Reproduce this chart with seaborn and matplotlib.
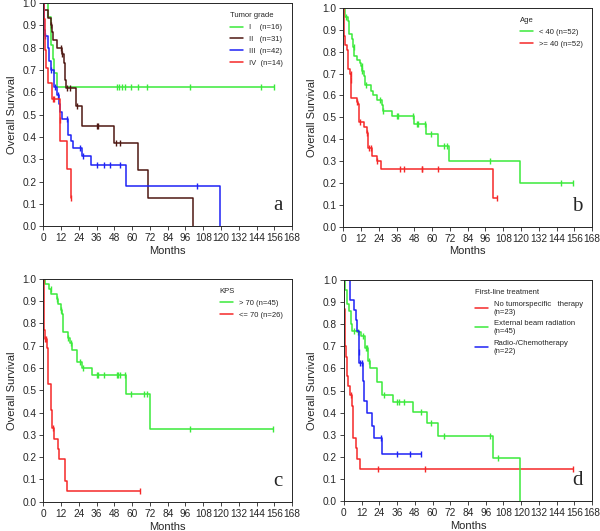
import matplotlib
matplotlib.use("Agg")
import matplotlib.pyplot as plt
import seaborn as sns
import pandas as pd
import numpy as np

# ---- data ----
# panel a: tumor grade
grade1_t = [0, 3, 5, 5.5, 6.5, 7.5, 9.5]
grade1_s = [1.0, 0.9375, 0.875, 0.8125, 0.75, 0.6875, 0.625]
grade1_c = [50, 51, 53, 55, 59, 64, 70, 99, 147, 156]

grade2_t = [0, 0.5, 3, 5, 6, 6.5, 9, 13, 14, 14.5, 15, 15.5, 22, 26, 47.5, 64, 71, 101]
grade2_s = [1.0, 0.97, 0.935, 0.90, 0.87, 0.835, 0.80, 0.77, 0.73, 0.69, 0.655, 0.62, 0.54, 0.45, 0.375, 0.25, 0.125, 0.0]
grade2_c = [5, 12, 13, 16, 18, 22.5, 36, 37, 49, 52]

grade3_t = [0, 0.5, 1, 3, 4, 5, 7, 7.5, 9, 10.5, 11, 13, 16.5, 17, 19, 20, 26, 32.5, 56, 119]
grade3_s = [1.0, 0.88, 0.855, 0.80, 0.74, 0.70, 0.665, 0.625, 0.59, 0.55, 0.51, 0.48, 0.445, 0.41, 0.38, 0.35, 0.315, 0.275, 0.18, 0.0]
grade3_c = [1.5, 5, 8, 10, 16, 25, 27, 36, 41, 45, 52, 104]

grade4_t = [0, 0.3, 1, 2, 3, 6, 11, 11.5, 16, 19]
grade4_s = [1.0, 0.93, 0.79, 0.71, 0.64, 0.57, 0.475, 0.38, 0.255, 0.125]
grade4_c = [6.5, 7.5, 11, 19]

# panel b: age
young_t = [0, 1, 3.5, 4, 6, 6.5, 7.5, 9, 11, 12, 13, 14, 15, 19, 20, 22.5, 26, 27, 33, 47.5, 56, 64, 71.5, 119]
young_s = [1.0, 0.96, 0.94, 0.88, 0.86, 0.82, 0.78, 0.76, 0.75, 0.735, 0.71, 0.69, 0.65, 0.62, 0.60, 0.58, 0.555, 0.53, 0.505, 0.47, 0.425, 0.37, 0.30, 0.20]
young_c = [2, 7, 12.5, 13, 15.5, 25, 27, 36, 37, 47, 50, 50.5, 55, 59, 68, 70, 99, 147, 155]

old_t = [0, 0.3, 0.5, 1.5, 2.5, 3, 3.5, 4.5, 5.2, 5.5, 9, 10, 10.5, 14, 16, 16.5, 17, 19.5, 23, 25.5, 101]
old_s = [1.0, 0.92, 0.87, 0.83, 0.81, 0.76, 0.72, 0.70, 0.67, 0.59, 0.57, 0.56, 0.48, 0.455, 0.43, 0.40, 0.36, 0.325, 0.30, 0.265, 0.13]
old_c = [5, 5.3, 9.5, 11, 16, 17.5, 19, 23, 38, 41, 53, 53.5, 64, 104]

# panel c: KPS
kps_hi_t = [0, 1.5, 4, 5.5, 9, 10, 12, 13, 13.5, 17, 18, 19.5, 22.5, 26, 33, 56, 72]
kps_hi_s = [1.0, 0.975, 0.955, 0.93, 0.91, 0.885, 0.86, 0.84, 0.76, 0.735, 0.71, 0.68, 0.625, 0.60, 0.57, 0.485, 0.325]
kps_hi_c = [0.5, 5, 9.5, 12, 17, 19, 25, 27, 36, 37, 41, 50, 50.5, 52, 55, 59, 68, 70, 99, 155]

kps_lo_t = [0, 0.5, 1, 2.5, 3, 3.5, 5, 5.5, 6, 7, 10, 10.5, 14.5, 15, 16]
kps_lo_s = [1.0, 0.77, 0.73, 0.69, 0.57, 0.53, 0.45, 0.41, 0.33, 0.28, 0.235, 0.19, 0.14, 0.095, 0.047]
kps_lo_c = [1.5, 2, 6.5, 65]

# panel d: first-line treatment
none_t = [0, 0.3, 0.6, 1, 1.5, 2, 3, 4, 5.5, 6, 6.5, 8, 9, 11]
none_s = [1.0, 0.87, 0.78, 0.70, 0.65, 0.565, 0.52, 0.48, 0.43, 0.38, 0.285, 0.24, 0.19, 0.145]
none_c = [5, 23, 55, 155]

ebr_t = [0, 0.5, 2, 2.5, 3.5, 5, 5.5, 9, 11.5, 14.5, 16.5, 18, 22.5, 26, 33, 47, 56.5, 63.5, 101, 119]
ebr_s = [1.0, 0.955, 0.93, 0.89, 0.86, 0.80, 0.77, 0.765, 0.745, 0.69, 0.635, 0.60, 0.54, 0.48, 0.45, 0.405, 0.355, 0.295, 0.195, 0.0]
ebr_c = [7, 9.5, 13, 15, 16, 17, 27, 36, 37, 41, 52, 59, 68, 99, 104]

rc_t = [0, 4, 7, 8, 9, 10, 10.5, 13, 14, 16, 19, 20.5, 25.5]
rc_s = [1.0, 0.91, 0.865, 0.82, 0.77, 0.675, 0.625, 0.545, 0.455, 0.40, 0.34, 0.285, 0.215]
rc_c = [10, 11, 12, 25, 36, 45, 52]

GREEN = "#3bea3b"
BROWN = "#4e1812"
BLUE = "#1e22f5"
RED = "#f52828"

panels = [
    dict(pos=[0.072, 0.574, 0.415, 0.42], letter="a", title="Tumor grade",
         series=[("I    (n=16)", grade1_t, grade1_s, grade1_c, GREEN),
                 ("II   (n=31)", grade2_t, grade2_s, grade2_c, BROWN),
                 ("III  (n=42)", grade3_t, grade3_s, grade3_c, BLUE),
                 ("IV  (n=14)", grade4_t, grade4_s, grade4_c, RED)]),
    dict(pos=[0.572, 0.573, 0.415, 0.412], letter="b", title="Age",
         series=[("< 40 (n=52)", young_t, young_s, young_c, GREEN),
                 (">= 40 (n=52)", old_t, old_s, old_c, RED)]),
    dict(pos=[0.072, 0.055, 0.415, 0.42], letter="c", title="KPS",
         series=[("> 70 (n=45)", kps_hi_t, kps_hi_s, kps_hi_c, GREEN),
                 ("<= 70 (n=26)", kps_lo_t, kps_lo_s, kps_lo_c, RED)]),
    dict(pos=[0.573, 0.056, 0.414, 0.417], letter="d", title="First-line treatment",
         series=[("No tumorspecific   therapy\n(n=23)", none_t, none_s, none_c, RED),
                 ("External beam radiation\n(n=45)", ebr_t, ebr_s, ebr_c, GREEN),
                 ("Radio-/Chemotherapy\n(n=22)", rc_t, rc_s, rc_c, BLUE)]),
]

sns.set_style("ticks")
plt.rcParams["font.family"] = ["Liberation Sans", "DejaVu Sans"]

fig = plt.figure(figsize=(6.0, 5.31), dpi=100)

for p in panels:
    ax = fig.add_axes(p["pos"])
    for label, t, s, c, col in p["series"]:
        t = list(t)
        s = list(s)
        # the curve runs on to the last follow-up (last censored case)
        if max(c) > t[-1]:
            t.append(max(c))
            s.append(s[-1])
        df = pd.DataFrame({"Months": t, "Survival": s})
        sns.lineplot(data=df, x="Months", y="Survival", drawstyle="steps-post",
                     color=col, lw=1.1, label=label, ax=ax, estimator=None)
        # censor marks sit on the step curve
        idx = np.searchsorted(np.array(t), np.array(c), side="right") - 1
        cy = np.array(s)[idx]
        ax.plot(c, cy, ls="none", marker="|", ms=5, mew=1.0, color=col)
    ax.set_xlim(0, 168)
    ax.set_ylim(0, 1.0)
    ax.set_xticks(np.arange(0, 169, 12))
    ax.set_yticks(np.arange(0, 1.01, 0.1))
    ax.set_yticklabels([f"{v:.1f}" for v in np.arange(0, 1.01, 0.1)])
    ax.tick_params(labelsize=7.3, length=3, width=0.6, pad=2)
    for sp in ax.spines.values():
        sp.set_linewidth(0.7)
    ax.set_xlabel("Months", fontsize=8, labelpad=2)
    ax.set_ylabel("Overall Survival", fontsize=8, labelpad=4)
    ax.legend(title=p["title"], loc="upper right", bbox_to_anchor=(0.99, 0.99),
              frameon=False, fontsize=5.5, title_fontsize=5.5,
              handlelength=1.7, handletextpad=0.8, labelspacing=0.6,
              alignment="left")
    ax.text(0.96, 0.05, p["letter"], transform=ax.transAxes, fontsize=15,
            family="Liberation Serif", ha="right", va="bottom")

fig.savefig("out.png", dpi=100)
